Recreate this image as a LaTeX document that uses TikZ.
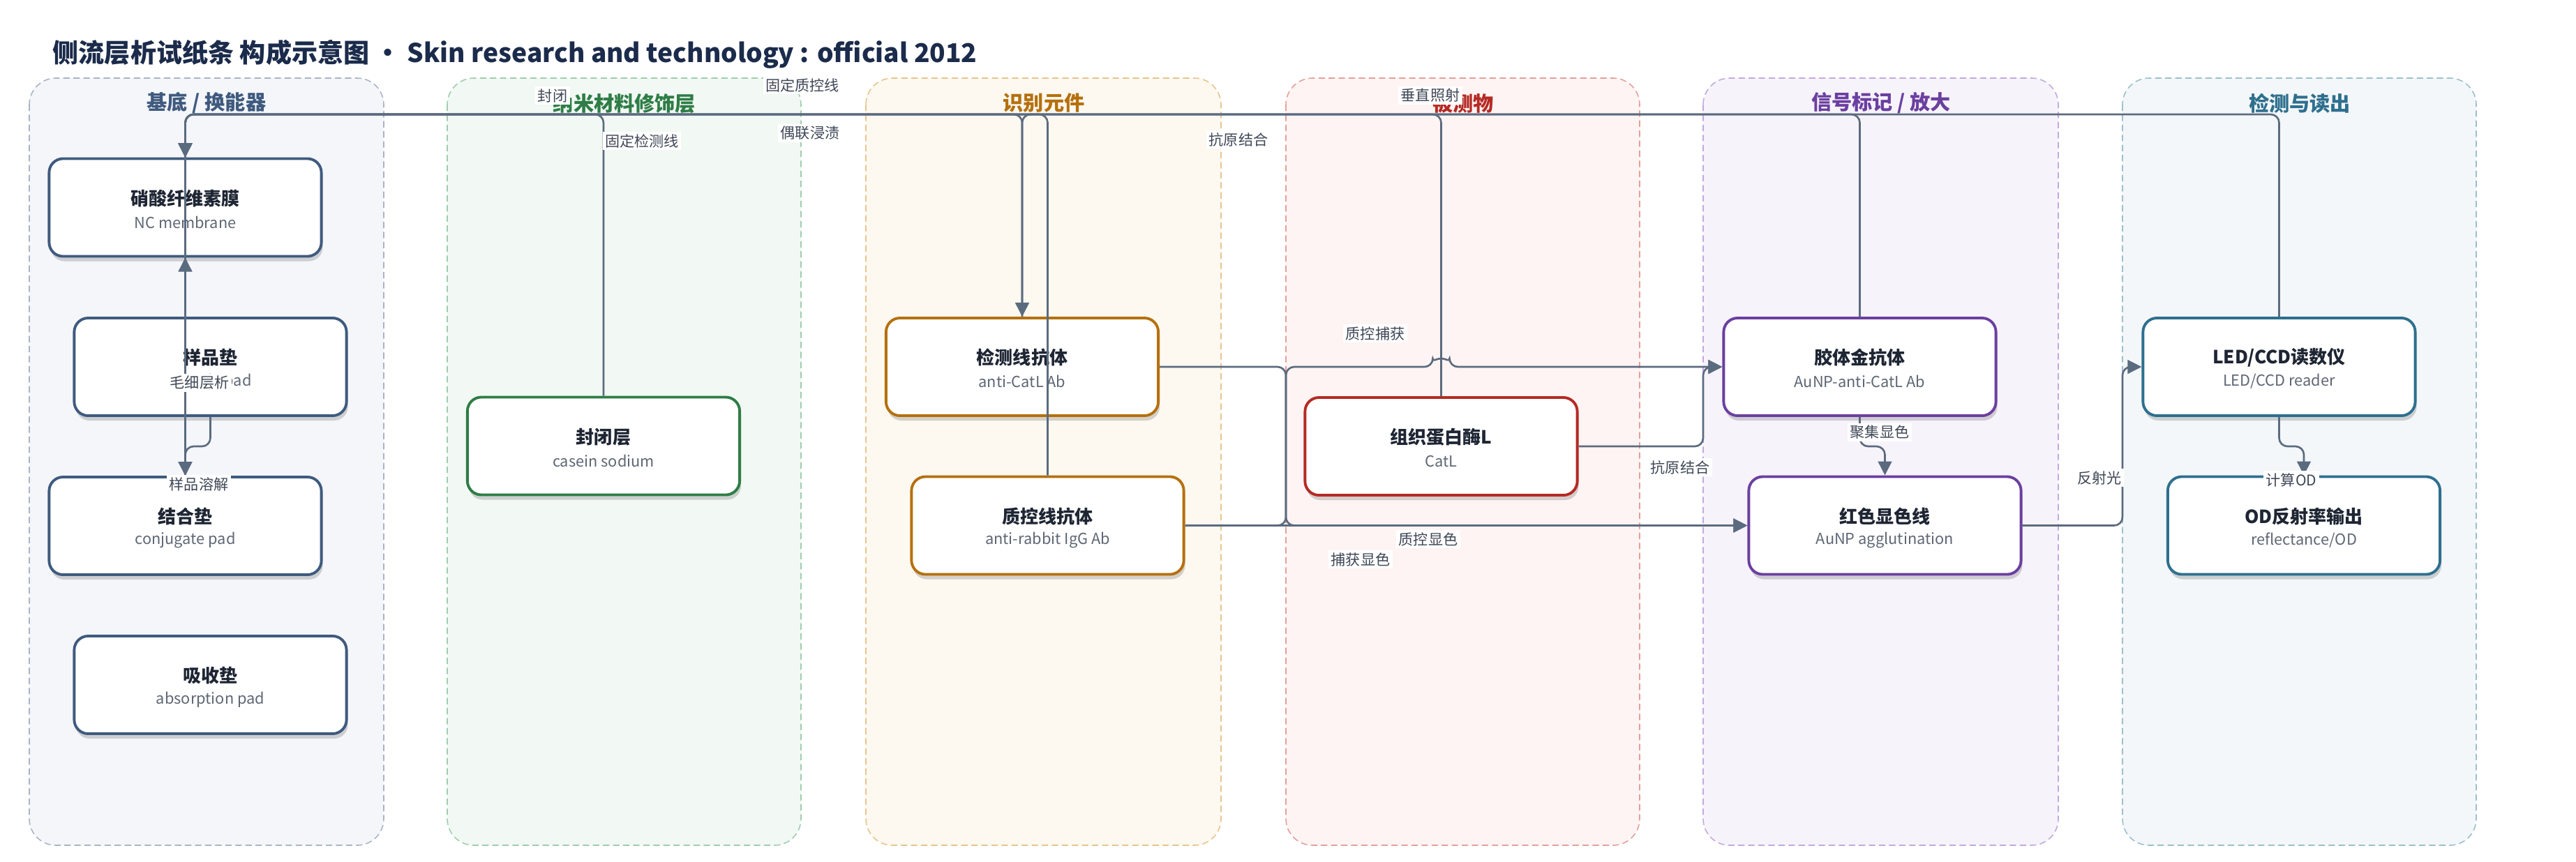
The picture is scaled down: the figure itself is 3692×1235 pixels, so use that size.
\documentclass[tikz,border=0pt]{standalone}
\usepackage{fontspec}
\setmainfont{Noto Sans CJK SC}
\usetikzlibrary{arrows.meta,shadows}
\definecolor{edgec}{HTML}{5B6B7F}
\definecolor{labc}{HTML}{3F4756}
\definecolor{ttlc}{HTML}{1E2533}
\definecolor{subc}{HTML}{5F6775}
\definecolor{headc}{HTML}{1B2B4B}
\definecolor{bA}{HTML}{3F5A7E}\definecolor{fA}{HTML}{F4F6FA}\definecolor{dA}{HTML}{A9B4C6}
\definecolor{bB}{HTML}{2E7D46}\definecolor{fB}{HTML}{F2F8F4}\definecolor{dB}{HTML}{9FCDAE}
\definecolor{bC}{HTML}{B5700D}\definecolor{fC}{HTML}{FDF8F0}\definecolor{dC}{HTML}{E7C58C}
\definecolor{bD}{HTML}{B52A24}\definecolor{fD}{HTML}{FDF4F3}\definecolor{dD}{HTML}{E4A09A}
\definecolor{bE}{HTML}{6B3FA0}\definecolor{fE}{HTML}{F7F3FB}\definecolor{dE}{HTML}{C2A9DE}
\definecolor{bF}{HTML}{2E6F8E}\definecolor{fF}{HTML}{F3F7F9}\definecolor{dF}{HTML}{9CBFCC}
\newcommand{\pnode}[6]{%
  \node[box=#4] (#1) at (#2,#3) {};
  \node[ttl] (#1-t) at ([yshift=0.13cm]#1.center) {#5};
  \node[subt] (#1-s) at ([yshift=-0.21cm]#1.center) {#6};
}
\begin{document}
\begin{tikzpicture}[x=0.01cm,y=-0.01cm,
  box/.style={draw=#1, fill=white, line width=1.1pt, rounded corners=0.2cm,
    minimum width=3.9cm, minimum height=1.4cm, inner sep=0pt,
    drop shadow={shadow xshift=0.02cm, shadow yshift=-0.07cm, opacity=0.16, fill=black}},
  ttl/.style={font=\bfseries\fontsize{7.4pt}{8pt}\selectfont, text=ttlc, inner sep=0pt},
  subt/.style={font=\fontsize{6.2pt}{7pt}\selectfont, text=subc, inner sep=0pt},
  lab/.style={fill=white, text=labc, font=\fontsize{6pt}{7pt}\selectfont, inner sep=1pt},
  ptitle/.style={font=\bfseries\fontsize{8.3pt}{9pt}\selectfont, inner sep=0pt},
  panel/.style 2 args={draw=#1, fill=#2, line width=0.45pt, dash pattern=on 2.6pt off 1.5pt, rounded corners=0.38cm},
  conn/.style={draw=edgec, line width=0.75pt, rounded corners=0.12cm},
  conarr/.style={conn, -{Triangle[length=5.7pt,width=5.6pt]}}
]
\useasboundingbox[fill=white] (0,0) rectangle (3692,1235);
% panels
\draw[panel={dA}{fA}] (42,112) rectangle (550,1212);
\draw[panel={dB}{fB}] (641,112) rectangle (1148,1212);
\draw[panel={dC}{fC}] (1241,112) rectangle (1750,1212);
\draw[panel={dD}{fD}] (1843,112) rectangle (2350,1212);
\draw[panel={dE}{fE}] (2441,112) rectangle (2950,1212);
\draw[panel={dF}{fF}] (3042,112) rectangle (3549,1212);
\node[ptitle, text=bA] (t1) at (296,148) {基底 / 换能器};
\node[ptitle, text=bB] (t2) at (895,148) {纳米材料修饰层};
\node[ptitle, text=bC] (t3) at (1496,148) {识别元件};
\node[ptitle, text=bD] (t4) at (2097,148) {被测物};
\node[ptitle, text=bE] (t5) at (2696,148) {信号标记 / 放大};
\node[ptitle, text=bF] (t6) at (3296,148) {检测与读出};
% title
\node[anchor=west, font=\bfseries\fontsize{10.55pt}{12pt}\selectfont, text=headc, inner sep=0pt] (head) at (75,78)
  {侧流层析试纸条 构成示意图 · Skin research and technology : official 2012};
% nodes
\pnode{nc}{265.5}{297.5}{bA}{硝酸纤维素膜}{NC membrane}
\pnode{sp}{301.5}{526}{bA}{样品垫}{sample pad}
\pnode{cp}{265.5}{754}{bA}{结合垫}{conjugate pad}
\pnode{ap}{301.5}{982}{bA}{吸收垫}{absorption pad}
\pnode{bl}{865}{639.5}{bB}{封闭层}{casein sodium}
\pnode{tl}{1465}{526}{bC}{检测线抗体}{anti-CatL Ab}
\pnode{cl}{1501.5}{753.5}{bC}{质控线抗体}{anti-rabbit IgG Ab}
\pnode{cat}{2065.5}{640}{bD}{组织蛋白酶L}{CatL}
\pnode{au}{2665.5}{526}{bE}{胶体金抗体}{AuNP-anti-CatL Ab}
\pnode{red}{2701.5}{753.5}{bE}{红色显色线}{AuNP agglutination}
\pnode{led}{3266.5}{526}{bF}{LED/CCD读数仪}{LED/CCD reader}
\pnode{od}{3302}{753.5}{bF}{OD反射率输出}{reflectance/OD}
% helper coordinates
\coordinate (bus) at (0,164);
\coordinate (m1) at (0,640);
\coordinate (v1) at (1843,0);
\coordinate (v2) at (2441,0);
\coordinate (v3) at (3042,0);
% connectors
\draw[conarr] (bl.north) -- (bl.north |- bus) -- (nc.north |- bus) -- (nc.north);
\draw[conarr] (tl.north) -- (tl.north |- bus) -- (nc.north |- bus) -- (nc.north);
\draw[conarr] (cl.north) -- (cl.north |- bus) -- (nc.north |- bus) -- (nc.north);
\draw[conarr] (led.north) -- (led.north |- bus) -- (nc.north |- bus) -- (nc.north);
\draw[conarr] (au.north) -- (au.north |- bus) -- (cp.north |- bus) -- (cp.north);
\draw[conarr] (cat.north) -- (cat.north |- bus) -- (tl.north |- bus) -- (tl.north);
\draw[conarr] (sp.south) -- (sp.south |- m1) -- (cp.north |- m1) -- (cp.north);
\draw[conarr] (cp.north) -- (nc.south);
\draw[conarr] (tl.east) -- (tl.east -| v1) -- (red.west -| v1) -- (red.west);
\draw[conarr] (cl.east) -- (cl.east -| v1) -- (au.west -| v1) -- ([xshift=-0.12cm]cat.north |- au.west)
  arc[start angle=180, end angle=0, radius=0.12cm] -- (au.west);
\draw[conarr] (cl.east) -- (red.west);
\draw[conarr] (cat.east) -- (cat.east -| v2) -- (au.west -| v2) -- (au.west);
\draw[conarr] (au.south) -- (au.south |- m1) -- (red.north |- m1) -- (red.north);
\draw[conarr] (red.east) -- (red.east -| v3) -- (led.west -| v3) -- (led.west);
\draw[conarr] (led.south) -- (led.south |- m1) -- (od.north |- m1) -- (od.north);
% labels
\node[lab] (l1) at (792,137) {封闭};
\node[lab] (l2) at (1150,122) {固定质控线};
\node[lab] (l3) at (1161,191) {偶联浸渍};
\node[lab] (l4) at (920,202) {固定检测线};
\node[lab] (l5) at (1775,200) {抗原结合};
\node[lab] (l6) at (2050,137) {垂直照射};
\node[lab] (l7) at (1971,478) {质控捕获};
\node[lab] (l8) at (2047,773) {质控显色};
\node[lab] (l9) at (1950,802) {捕获显色};
\node[lab] (l10) at (2408,670) {抗原结合};
\node[lab] (l11) at (2694,620) {聚集显色};
\node[lab] (l12) at (3009,685) {反射光};
\node[lab] (l13) at (3284,688) {计算OD};
\node[lab] (l14) at (285,694) {样品溶解};
\node[lab] (l15) at (286,549) {毛细层析};
\end{tikzpicture}
\end{document}
